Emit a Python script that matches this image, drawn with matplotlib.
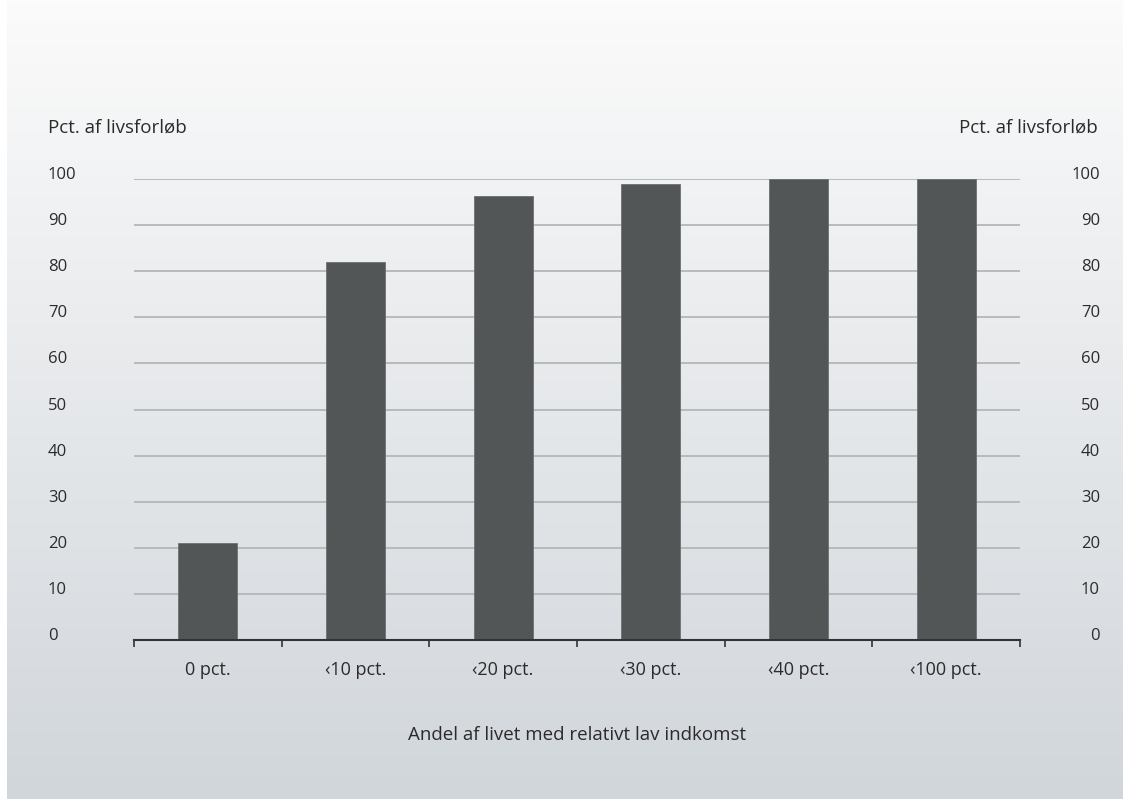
# Bar chart: share of life course by share of life with relatively low income

import numpy as np
import matplotlib.pyplot as plt

plt.rcParams['font.family'] = ['Open Sans', 'DejaVu Sans']

# Data
categories = ['0 pct.', '‹10 pct.', '‹20 pct.', '‹30 pct.', '‹40 pct.', '‹100 pct.']
values = [21.0, 82.0, 96.3, 99.0, 100.0, 100.0]
y_ticks = list(range(0, 101, 10))

bar_color = '#525656'
grid_color = '#b4b6b8'
text_color = '#2b2b2b'

W, H = 1123, 799
fig = plt.figure(figsize=(W / 100, H / 100), dpi=100)
fig.patch.set_facecolor('white')

# background gradient panel
bg = fig.add_axes([7 / W, 0, 1 - 7 / W, 1], zorder=0)
top = np.array([251, 251, 251]) / 255
bottom = np.array([209, 214, 219]) / 255
t = np.linspace(0, 1, 256)[:, None]
grad = top + (bottom - top) * t
bg.imshow(grad[:, None, :], aspect='auto', extent=[0, 1, 0, 1])
bg.axis('off')

# main axes
ax = fig.add_axes([134 / W, 1 - 640 / H, (1020 - 134) / W, (640 - 179) / H], zorder=1)
ax.patch.set_alpha(0)
x = np.arange(len(categories))
ax.bar(x, values, width=0.4, color=bar_color, edgecolor='#6c7070', linewidth=0.6, zorder=3)

ax.set_xlim(-0.5, len(categories) - 0.5)
ax.set_ylim(0, 100)
ax.set_yticks(y_ticks)
ax.set_yticklabels([str(v) for v in y_ticks], ha='left', va='baseline')
ax.tick_params(axis='y', length=0, pad=61.9, labelsize=12, labelcolor=text_color)
ax.yaxis.grid(True, color=grid_color, linewidth=1.3, zorder=1)
ax.set_axisbelow(True)

ax.set_xticks(x)
ax.set_xticklabels(categories)
ax.set_xticks(np.arange(-0.5, len(categories)), minor=True)
ax.tick_params(axis='x', which='major', length=0, pad=15, labelsize=13, labelcolor=text_color)
ax.tick_params(axis='x', which='minor', length=5, width=1.2, color='#333333', direction='out')

for side in ['top', 'left', 'right']:
    ax.spines[side].set_visible(False)
ax.spines['bottom'].set_color('#333333')
ax.spines['bottom'].set_linewidth(1.5)
ax.spines['bottom'].set_zorder(4)

# right-hand axis
ax2 = ax.twinx()
ax2.set_ylim(0, 100)
ax2.set_yticks(y_ticks)
ax2.set_yticklabels([str(v) for v in y_ticks], ha='right', va='baseline')
ax2.tick_params(axis='y', length=0, pad=57.6, labelsize=12, labelcolor=text_color)
for side in ['top', 'left', 'right', 'bottom']:
    ax2.spines[side].set_visible(False)

ax.set_xlabel('Andel af livet med relativt lav indkomst', fontsize=13.5,
              color=text_color, labelpad=34)

fig.text(48 / W, 1 - 133 / H, 'Pct. af livsforløb', ha='left', va='baseline',
         fontsize=13.5, color=text_color)
fig.text(1098 / W, 1 - 133 / H, 'Pct. af livsforløb', ha='right', va='baseline',
         fontsize=13.5, color=text_color)

fig.savefig('out.png', dpi=100)
